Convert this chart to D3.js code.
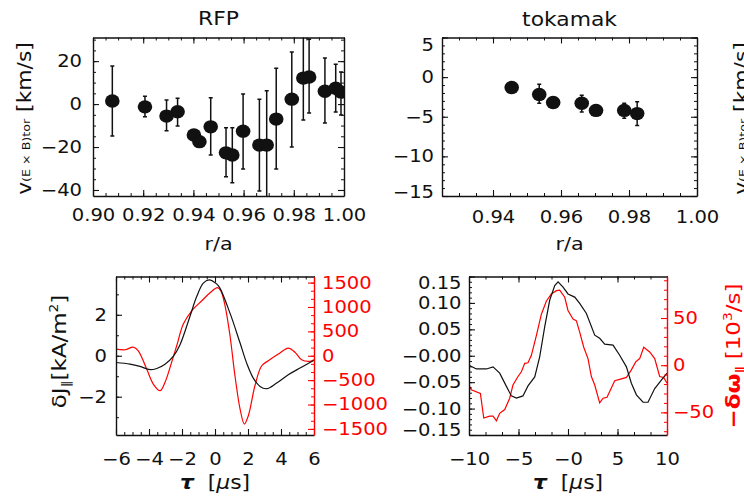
<!DOCTYPE html>
<html>
<head>
<meta charset="utf-8">
<script src="https://cdn.jsdelivr.net/npm/d3@7"></script>
<style>
  body { margin: 0; background: #fff; }
  svg { display: block; }
  text { font-family: "DejaVu Sans", sans-serif; }
</style>
</head>
<body>
<div class="chart"></div>
<script>
const width = 744;
const height = 498;
const SX = 1.15; // the original type is set wide

// top row: toroidal ExB velocity vs r/a
const rfpR  = [0.9077, 0.9207, 0.9293, 0.9337, 0.9402, 0.9424, 0.9469, 0.9530, 0.9555, 0.9598,
               0.9663, 0.9692, 0.9730, 0.9792, 0.9838, 0.9861, 0.9924, 0.9967, 0.9988];
const rfpV  = [1.4, -1.3, -5.6, -3.6, -14.4, -17.5, -10.6, -22.7, -23.7, -12.6,
               -19.1, -19.1, -7.0, 2.3, 12.1, 12.6, 6.0, 7.4, 5.6];
const rfpHi = [17.7, 3.7, 1.9, 2.7, -14.4, -17.5, 2.9, -11.0, -11.0, 4.7,
               2.3, 6.2, 16.7, 24.2, 40.0, 30.2, 21.4, 18.6, 14.9];
const rfpLo = [-14.9, -5.9, -12.4, -10.2, -14.4, -17.5, -23.7, -33.8, -36.6, -30.2,
               -40.5, -50.0, -30.2, -20.0, -7.4, -4.2, -8.8, -3.7, -5.1];

const tokR  = [0.9455, 0.9536, 0.9577, 0.9661, 0.9703, 0.9786, 0.9824];
const tokV  = [-1.3, -2.2, -3.2, -3.3, -4.2, -4.2, -4.6];
const tokHi = [-1.3, -0.9, -3.2, -2.3, -4.2, -3.3, -3.1];
const tokLo = [-1.3, -3.3, -3.2, -4.4, -4.2, -5.2, -6.1];

// bottom left: RFP conditional averages
const rfpTauJ = [-6, -5.15, -4.55, -3.94, -3.53, -3.03, -2.53, -2.12, -1.52, -1.11, -0.71, -0.36,
                 0.1, 0.3, 0.91, 1.52, 1.92, 2.32, 2.73, 3.13, 3.74, 4.44, 5.15, 5.86, 6];
const rfpJ    = [-0.33, -0.41, -0.52, -0.68, -0.62, -0.41, -0.03, 0.54, 1.92, 2.89, 3.55, 3.71,
                 3.51, 3.3, 2.08, 0.62, -0.36, -1.09, -1.5, -1.61, -1.33, -0.93, -0.6, -0.28, -0.22];
const rfpTauW = [-6, -5.45, -4.95, -4.65, -4.14, -3.74, -3.33, -3.03, -2.63, -2.32, -1.92, -1.41,
                 -0.8, -0.3, 0.15, 0.35, 0.61, 0.91, 1.21, 1.52, 1.78, 2.02, 2.42, 2.83, 3.23,
                 3.84, 4.44, 4.85, 5.25, 5.76, 6];
const rfpW    = [137, 123, 175, 102, -273, -580, -717, -545, -135, 205, 650, 922,
                 1127, 1290, 1395, 1332, 1025, 410, -410, -1092, -1400, -1230, -615, -205, -102,
                 35, 158, 70, -82, -115, -82];

// bottom right: tokamak conditional averages
const tokTauJ = [-10, -9.25, -8.24, -7.57, -6.9, -6.22, -5.72, -5.21, -4.55, -4.04, -3.36, -2.86,
                 -2.35, -1.85, -1.34, -1.0, -0.5, 0, 0.68, 1.18, 1.86, 2.7, 3.2, 3.71, 4.55,
                 5.22, 5.9, 6.4, 6.91, 7.58, 8.08, 8.76, 9.43, 10];
const tokJ    = [-0.018, -0.025, -0.025, -0.021, -0.033, -0.058, -0.076, -0.080, -0.076, -0.057,
                 -0.040, -0.002, 0.055, 0.105, 0.133, 0.140, 0.130, 0.117, 0.111, 0.099, 0.080,
                 0.039, 0.033, 0.022, 0.020, 0.001, -0.021, -0.052, -0.074, -0.088, -0.088,
                 -0.062, -0.046, -0.033];
const tokTauW = [-10, -9.77, -8.85, -8.51, -7.91, -7.57, -7.23, -6.9, -6.39, -5.89, -5.56, -5.05,
                 -4.71, -4.37, -4.04, -3.7, -3.19, -2.69, -2.18, -1.68, -1.17, -0.84, -0.33, 0,
                 0.51, 0.85, 1.18, 1.59, 2.02, 2.36, 2.7, 3.2, 3.54, 3.94, 4.72, 5.22, 5.9, 6.4,
                 6.84, 7.24, 7.65, 8.25, 8.76, 9.26, 9.66, 10];
const tokW    = [-21, -26, -30, -56, -54, -54, -59, -51, -47, -35, -21, -12,
                 -7, 2, 2.5, 10.5, 31.6, 54, 68, 75.5, 79, 79.6, 72, 58,
                 49, 47, 35, 19, 7, -12, -21, -40, -35, -34, -16.5, -15, -13, -5,
                 3.5, 7, 19, 14, 7, -12, -13, -19];

const svg = d3.select(".chart").append("svg")
  .attr("width", width)
  .attr("height", height);

const defs = svg.append("defs");

function minorTicks (scale, step) {
  const [a, b] = d3.extent(scale.domain());
  const k0 = Math.ceil(a / step - 1e-6);
  const k1 = Math.floor(b / step + 1e-6);
  return d3.range(k0, k1 + 1).map(k => k * step);
}

// one IDL style axis: inward major + minor ticks, optional labels
function axis (g, side, scale, major, minor, opts) {
  opts = opts || {};
  const color = opts.color || "#111";
  const maker = { bottom: d3.axisBottom, top: d3.axisTop, left: d3.axisLeft, right: d3.axisRight }[side];
  const pad = (opts.pad || 8) / (side === "left" || side === "right" ? SX : 1);

  const a = g.append("g")
    .attr("transform", opts.at)
    .attr("color", color)
    .call(maker(scale)
      .tickValues(minorTicks(scale, major))
      .tickSize(-6)
      .tickSizeOuter(0)
      .tickPadding(pad)
      .tickFormat(opts.labels ? opts.format : ""))
    .attr("font-size", 17)
    .attr("font-family", null);

  a.select(".domain").attr("stroke-width", 1.4);
  a.selectAll(".tick line").attr("stroke-width", 1.1);
  a.selectAll(".tick text").attr("transform", `scale(${SX},1)`);
  if (opts.shift) {
    a.selectAll(".tick text").attr("y", d => opts.shift(d) || null);
  }

  const m = g.append("g")
    .attr("transform", opts.at)
    .attr("color", color)
    .call(maker(scale)
      .tickValues(minorTicks(scale, minor))
      .tickSize(-3)
      .tickSizeOuter(0)
      .tickFormat(""));
  m.select(".domain").remove();
  m.selectAll(".tick line").attr("stroke-width", 1);
  return a;
}

function frame (box, x, y, spec) {
  const g = svg.append("g");
  axis(g, "bottom", x, spec.xMajor, spec.xMinor,
    { at: `translate(0,${box.b})`, labels: true, format: spec.xFormat, pad: spec.xPad });
  axis(g, "top", x, spec.xMajor, spec.xMinor, { at: `translate(0,${box.t})` });
  axis(g, "left", y, spec.yMajor, spec.yMinor,
    { at: `translate(${box.l},0)`, labels: true, format: spec.yFormat, pad: spec.yPad, shift: spec.yShift });
  if (spec.y2) {
    axis(g, "right", spec.y2, spec.y2Major, spec.y2Minor,
      { at: `translate(${box.r},0)`, labels: true, format: spec.y2Format, pad: spec.y2Pad, color: "#f00" });
  } else {
    axis(g, "right", y, spec.yMajor, spec.yMinor, { at: `translate(${box.r},0)` });
  }
  return g;
}

function clipFor (id, box) {
  defs.append("clipPath").attr("id", id)
    .append("rect")
    .attr("x", box.l).attr("y", box.t)
    .attr("width", box.r - box.l).attr("height", box.b - box.t);
  return `url(#${id})`;
}

function plain (x, y, str, size, anchor) {
  return svg.append("text")
    .attr("transform", `translate(${x},${y}) scale(${SX},1)`)
    .attr("text-anchor", anchor || "middle")
    .attr("font-size", size)
    .attr("fill", "#111")
    .text(str);
}

// rotated label built from parts: [text, size, baseline shift, style]
function vlabel (x, y, parts, color) {
  const t = svg.append("text")
    .attr("transform", `translate(${x},${y}) rotate(-90) scale(${SX},1)`)
    .attr("text-anchor", "middle")
    .attr("fill", color)
    .style("white-space", "pre");
  let prev = 0;
  parts.forEach(([s, size, shift, style]) => {
    const sp = t.append("tspan")
      .attr("font-size", size)
      .attr("dy", shift - prev)
      .text(s);
    if (style === "b") sp.attr("font-weight", "bold");
    prev = shift;
  });
  return t;
}

function errorPlot (box, x, y, r, v, hi, lo, id) {
  const g = svg.append("g").attr("clip-path", clipFor(id, box));
  const idx = d3.range(r.length);
  const bars = idx.filter(i => hi[i] !== lo[i]);
  g.selectAll("line.err").data(bars).join("line")
    .attr("x1", i => x(r[i])).attr("x2", i => x(r[i]))
    .attr("y1", i => y(hi[i])).attr("y2", i => y(lo[i]))
    .attr("stroke", "#111").attr("stroke-width", 1.5);
  [hi, lo].forEach(arr => {
    g.selectAll(null).data(bars).join("line")
      .attr("x1", i => x(r[i]) - 2).attr("x2", i => x(r[i]) + 2)
      .attr("y1", i => y(arr[i])).attr("y2", i => y(arr[i]))
      .attr("stroke", "#111").attr("stroke-width", 1.5);
  });
  g.selectAll("ellipse").data(idx).join("ellipse")
    .attr("cx", i => x(r[i])).attr("cy", i => y(v[i]))
    .attr("rx", 7.3).attr("ry", 6.7)
    .attr("fill", "#111");
}

function curve (box, x, y, tau, vals, color, id, smooth) {
  const line = d3.line()
    .x((d, i) => x(tau[i]))
    .y(d => y(d))
    .curve(smooth ? d3.curveCatmullRom.alpha(0.5) : d3.curveLinear);
  svg.append("path")
    .attr("clip-path", clipFor(id, box))
    .attr("d", line(vals))
    .attr("fill", "none")
    .attr("stroke", color)
    .attr("stroke-width", 1.2);
}

const minus0 = p => v => Math.abs(v) < 1e-9 ? "\u22120" + (p ? "." + "0".repeat(p) : "") : d3.format(`.${p}f`)(v);

// ---------- RFP profile ----------
const b1 = { l: 93, r: 344, t: 37.5, b: 196 };
const x1 = d3.scaleLinear().domain([0.90, 1.00]).range([b1.l, b1.r]);
const y1 = d3.scaleLinear().domain([-42.8, 31]).range([b1.b, b1.t]);
errorPlot(b1, x1, y1, rfpR, rfpV, rfpHi, rfpLo, "c1");
frame(b1, x1, y1, {
  xMajor: 0.02, xMinor: 0.005, xFormat: d3.format(".2f"), xPad: 13,
  yMajor: 20, yMinor: 5, yFormat: d3.format("d"), yPad: 11
});

// ---------- tokamak profile ----------
const b2 = { l: 442, r: 697, t: 37.5, b: 196 };
const x2 = d3.scaleLinear().domain([0.925, 1.00]).range([b2.l, b2.r]);
const y2 = d3.scaleLinear().domain([-15, 5]).range([b2.b, b2.t]);
errorPlot(b2, x2, y2, tokR, tokV, tokHi, tokLo, "c2");
frame(b2, x2, y2, {
  xMajor: 0.02, xMinor: 0.005, xFormat: d3.format(".2f"), xPad: 15,
  yMajor: 5, yMinor: 1, yFormat: d3.format("d"), yPad: 8,
  yShift: d => d === 5 ? 8 : d === -15 ? -3.5 : 0
});

// ---------- RFP time traces ----------
const b3 = { l: 116, r: 314, t: 276.5, b: 435 };
const x3 = d3.scaleLinear().domain([-6, 6]).range([b3.l, b3.r]);
const y3 = d3.scaleLinear().domain([-3.87, 3.87]).range([b3.b, b3.t]);
const y3r = d3.scaleLinear().domain([-1625, 1625]).range([b3.b, b3.t]);
curve(b3, x3, y3r, rfpTauW, rfpW, "#f00", "c3a", true);
curve(b3, x3, y3, rfpTauJ, rfpJ, "#111", "c3b", true);
frame(b3, x3, y3, {
  xMajor: 2, xMinor: 0.5, xFormat: d3.format("d"), xPad: 18,
  yMajor: 2, yMinor: 1, yFormat: d3.format("d"), yPad: 9,
  y2: y3r, y2Major: 500, y2Minor: 500 / 3, y2Format: d3.format("d"), y2Pad: 8
});

// ---------- tokamak time traces ----------
const b4 = { l: 469, r: 667, t: 276.5, b: 435 };
const x4 = d3.scaleLinear().domain([-10, 10]).range([b4.l, b4.r]);
const y4 = d3.scaleLinear().domain([-0.15, 0.15]).range([b4.b, b4.t]);
const y4r = d3.scaleLinear().domain([-74, 94]).range([b4.b, b4.t]);
curve(b4, x4, y4r, tokTauW, tokW, "#f00", "c4a", false);
curve(b4, x4, y4, tokTauJ, tokJ, "#111", "c4b", false);
frame(b4, x4, y4, {
  xMajor: 5, xMinor: 5 / 3, xFormat: minus0(0), xPad: 18,
  yMajor: 0.05, yMinor: 0.01, yFormat: minus0(2), yPad: 7.5,
  yShift: d => d > 0.14 ? 7 : d < -0.14 ? -5 : 0,
  y2: y4r, y2Major: 50, y2Minor: 10, y2Format: d3.format("d"), y2Pad: 6
});

// ---------- titles and axis labels ----------
plain(218.5, 25, "RFP", 19);
plain(569.5, 26, "tokamak", 19);
plain(218.5, 250, "r/a", 18);
plain(569.5, 250, "r/a", 18);

const vExB = [["v", 19, 0], ["(E \u00d7 B)tor", 11, -1], [" [km/s]", 19, 0]];
vlabel(31, 118.5, vExB, "#111");
vlabel(748, 118.5, vExB, "#111");   // label of the next panel, cut by the page edge

vlabel(66, 351.5, [["\u03b4J", 20, 0], ["\u2225", 12, 4], ["[kA/m", 20, 0], ["2", 12, -8], ["]", 20, 0]], "#111");
vlabel(740, 356, [["\u2212\u03b4\u03c9", 20, 0, "b"], ["\u2225", 12, 4, "b"], [" [10", 20, 0], ["3", 12, -8], ["/s]", 20, 0]], "#f00");

[[215, 489], [568, 489]].forEach(([cx, cy]) => {
  const t = svg.append("text")
    .attr("transform", `translate(${cx},${cy}) scale(${SX},1)`)
    .attr("text-anchor", "middle")
    .attr("font-size", 19)
    .attr("fill", "#111")
    .style("white-space", "pre");
  t.append("tspan").attr("font-style", "italic").attr("font-weight", "bold").text("\u03c4");
  t.append("tspan").text("  [");
  t.append("tspan").attr("font-style", "italic").text("\u03bc");
  t.append("tspan").text("s]");
});
</script>
</body>
</html>
